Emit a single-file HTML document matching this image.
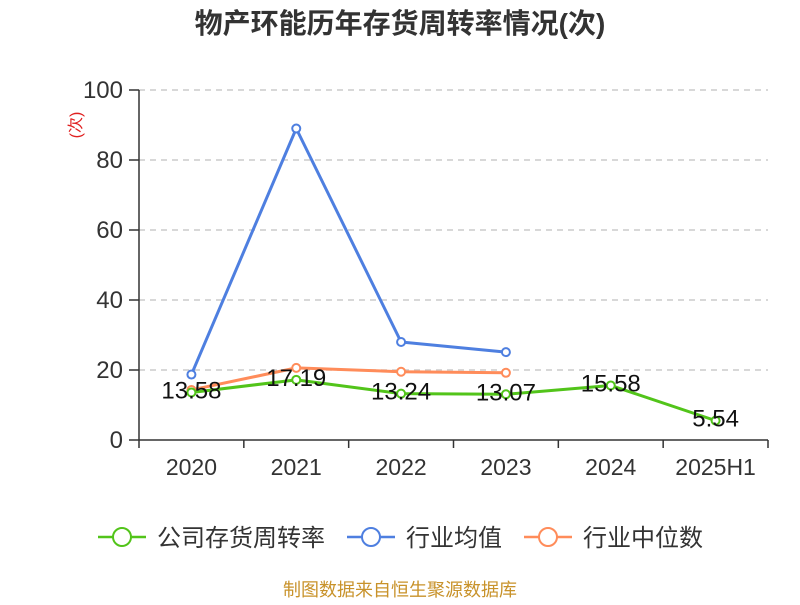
<!DOCTYPE html>
<html><head><meta charset="utf-8"><style>
body{margin:0;background:#fff;}
svg text{font-family:"Liberation Sans","Noto Sans CJK SC",sans-serif;}
</style></head><body>
<svg id="chart" width="800" height="600" xmlns="http://www.w3.org/2000/svg">
<text x="400" y="33" text-anchor="middle" font-size="28" font-weight="bold" fill="#333">物产环能历年存货周转率情况(次)</text>
<text transform="translate(81,125) rotate(-90)" text-anchor="middle" font-size="16" fill="#e02020">(次)</text>
<g id="grid"></g><g id="axes"></g><g id="series"></g>
<g>
<g><line x1="98" y1="537" x2="146" y2="537" stroke="#52c41a" stroke-width="2.5"/><circle cx="122" cy="537" r="9" fill="#fff" stroke="#52c41a" stroke-width="2"/><text x="157" y="546" font-size="24" fill="#333">公司存货周转率</text></g>
<g><line x1="347" y1="537" x2="395" y2="537" stroke="#4e7fe0" stroke-width="2.5"/><circle cx="371" cy="537" r="9" fill="#fff" stroke="#4e7fe0" stroke-width="2"/><text x="406" y="546" font-size="24" fill="#333">行业均值</text></g>
<g><line x1="524" y1="537" x2="572" y2="537" stroke="#ff8c5a" stroke-width="2.5"/><circle cx="548" cy="537" r="9" fill="#fff" stroke="#ff8c5a" stroke-width="2"/><text x="583" y="546" font-size="24" fill="#333">行业中位数</text></g>
</g>
<text x="400" y="596" text-anchor="middle" font-size="18" fill="#c8922a">制图数据来自恒生聚源数据库</text>
</svg>
<script>
const categories=["2020","2021","2022","2023","2024","2025H1"];
const companyValues=[13.58,17.19,13.24,13.07,15.58,5.54];
const avgValues=[18.7,89,28,25.1,null,null];
const medianValues=[14.3,20.6,19.5,19.2,null,null];
const yTicks=[0,20,40,60,80,100];
const NS="http://www.w3.org/2000/svg";
const L=139,R=768,T=90,B=440,band=(R-L)/categories.length;
const x=i=>L+band*(i+0.5), y=v=>B-(v/100)*(B-T);
function mk(tag,attrs,parent){const e=document.createElementNS(NS,tag);for(const k in attrs)e.setAttribute(k,attrs[k]);parent.appendChild(e);return e;}
const grid=document.getElementById('grid'),axes=document.getElementById('axes'),ser=document.getElementById('series');
yTicks.forEach(t=>{
 if(t>0){const g=mk('line',{x1:L,x2:R,y1:y(t),y2:y(t),stroke:'#ccc','stroke-dasharray':'6,5','stroke-width':1.5},grid);
 
 }
 const tk=mk('line',{x1:L-10,x2:L,y1:y(t),y2:y(t),stroke:'#333','stroke-width':1.5},axes);
 
 
 const tl=mk('text',{x:L-16,y:y(t)+8,'text-anchor':'end','font-size':24,fill:'#333'},axes);tl.textContent=t;
 
 
});
const ya=mk('line',{x1:L,x2:L,y1:T,y2:B,stroke:'#333','stroke-width':1.5},axes);


const xa=mk('line',{x1:L,x2:R,y1:B,y2:B,stroke:'#333','stroke-width':1.5},axes);


for(let i=0;i<=categories.length;i++){const tk=mk('line',{x1:L+band*i,x2:L+band*i,y1:B,y2:B+8,stroke:'#333','stroke-width':1.5},axes);
 
 }
categories.forEach((c,i)=>{const t=mk('text',{x:x(i),y:B+35,'text-anchor':'middle','font-size':23,fill:'#333'},axes);t.textContent=c;
 
 });
function series(vals,color,name,labels){
 const pts=vals.map((v,i)=>v==null?null:[x(i),y(v)]).filter(p=>p);
 const pl=mk('polyline',{points:pts.map(p=>p.join(',')).join(' '),fill:'none',stroke:color,'stroke-width':3,'stroke-linejoin':'round'},ser);
 
 
 vals.forEach((v,i)=>{if(v==null)return;
  const c=mk('circle',{cx:x(i),cy:y(v),r:4,fill:'#fff',stroke:color,'stroke-width':2},ser);
  
  
 });
 if(labels)vals.forEach((v,i)=>{const t=mk('text',{x:x(i),y:y(v)+6,'text-anchor':'middle','font-size':24,fill:'#111'},ser);t.textContent=v.toFixed(2);
  
  });
}
series(avgValues,'#4e7fe0','industry-avg',false);
series(medianValues,'#ff8c5a','industry-median',false);
series(companyValues,'#52c41a','company',true);
</script>
</body></html>
